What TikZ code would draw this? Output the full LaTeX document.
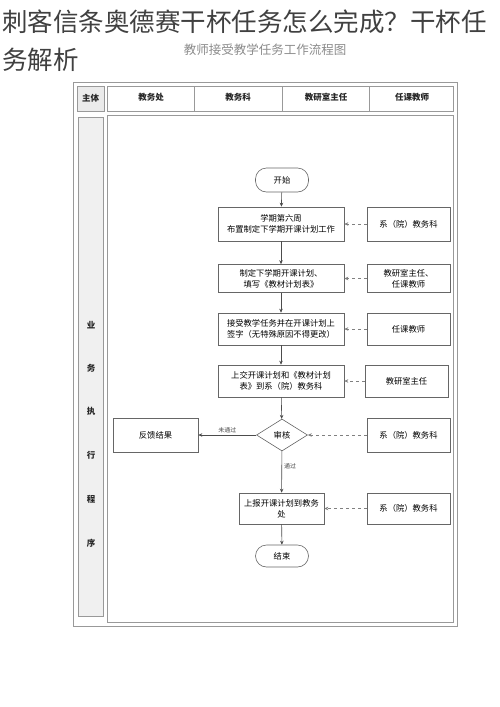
\documentclass[tikz,border=0pt]{standalone}
\usepackage{fontspec}
\newfontfamily\cjk{Noto Sans CJK SC}
\usetikzlibrary{arrows.meta,shapes.geometric,positioning}

\begin{document}
\begin{tikzpicture}[x=1pt,y=-1pt]
\tikzset{
  flowbox/.style={draw=black!60,line width=0.6pt,minimum width=126pt,minimum height=32pt,inner sep=1pt,align=center,font=\cjk\fontsize{8.3}{11}\selectfont},
  rolebox/.style={flowbox,minimum width=83pt},
  termnode/.style={draw=black!60,line width=0.6pt,rounded corners=11pt,minimum width=53pt,minimum height=24pt,inner sep=1pt,font=\cjk\fontsize{8.3}{11}\selectfont},
  checknode/.style={diamond,draw=black!60,line width=0.6pt,aspect=1.6,minimum width=51pt,minimum height=32pt,inner sep=0pt,font=\cjk\fontsize{8.3}{11}\selectfont},
  flowedge/.style={draw=black!70,line width=0.6pt,-{Stealth[length=4pt,width=3.5pt]}},
  hintedge/.style={flowedge,dashed,draw=black!50},
  edgelabel/.style={font=\cjk\fontsize{6}{8}\selectfont,text=black!70,inner sep=2pt},
  frameline/.style={draw=black!40,line width=0.6pt},
  headtext/.style={font=\cjk\bfseries\fontsize{8.5}{10}\selectfont,text=black!85,inner sep=0pt}
}
\useasboundingbox[fill=white] (0,0) rectangle (500,707);

\node[anchor=west,inner sep=0pt,font=\cjk\fontsize{25.5}{30}\selectfont,text=black!75] (t_title) at (2,22) {刺客信条奥德赛干杯任务怎么完成？干杯任};
\node[anchor=west,inner sep=0pt,font=\cjk\fontsize{25.5}{30}\selectfont,text=black!75] (t_title2) at (2,60) {务解析};
\node[inner sep=0pt,font=\cjk\fontsize{12.5}{14}\selectfont,text=black!45] (t_sub) at (265,50) {教师接受教学任务工作流程图};

\draw[frameline] (73,82) rectangle (457,626);
\draw[frameline,fill=black!8] (77,86) rectangle (104,111);
\draw[frameline] (107,86) rectangle (453,111);
\foreach \xs in {194,282,369}
  \draw[frameline] (\xs,86) -- (\xs,111);
\draw[frameline,fill=black!6] (78,117) rectangle (103,616);
\draw[frameline] (107,115) rectangle (453,622);

\node[headtext] (h_main) at (90.5,98.5) {主体};
\node[headtext] (h_office) at (151,97) {教务处};
\node[headtext] (h_section) at (238,97) {教务科};
\node[headtext] (h_head) at (326,97) {教研室主任};
\node[headtext] (h_teacher) at (412,97) {任课教师};

\foreach \ch/\yy [count=\i] in {业/325,务/368,执/411,行/455,程/499,序/543}
  \node[headtext] (s_\i) at (91,\yy) {\ch};

\node[termnode] (n_start) at (282,180) {开始};
\node[flowbox,minimum height=34pt] (n_plan) at (281,224) {学期第六周\\布置制定下学期开课计划工作};
\node[flowbox,minimum height=28pt] (n_fill) at (281,278.5) {制定下学期开课计划、\\填写《教材计划表》};
\node[flowbox] (n_sign) at (281,329) {接受教学任务并在开课计划上\\签字（无特殊原因不得更改）};
\node[flowbox] (n_submit) at (281,381) {上交开课计划和《教材计划\\表》到系（院）教务科};
\node[checknode] (n_check) at (282,435) {审核};
\node[flowbox,minimum width=85pt,minimum height=34pt] (n_feedback) at (155.5,435) {反馈结果};
\node[flowbox,minimum width=85pt,minimum height=31pt] (n_report) at (281.5,508.5) {上报开课计划到教务\\处};
\node[termnode,minimum height=22pt] (n_end) at (282,556) {结束};

\node[rolebox,minimum height=34pt] (r_plan) at (408.5,224) {系（院）教务科};
\node[rolebox,minimum height=28pt] (r_fill) at (408.5,278.5) {教研室主任、\\任课教师};
\node[rolebox] (r_sign) at (408.5,329) {任课教师};
\node[rolebox] (r_submit) at (406.5,381) {教研室主任};
\node[rolebox,minimum height=34pt] (r_check) at (408.5,435) {系（院）教务科};
\node[rolebox,minimum height=31pt] (r_report) at (408.5,508.5) {系（院）教务科};

\draw[flowedge] (n_start) -- (n_plan);
\draw[flowedge] (n_plan) -- (n_fill);
\draw[flowedge] (n_fill) -- (n_sign);
\draw[flowedge] (n_sign) -- (n_submit);
\draw[flowedge] (n_submit) -- (n_check);
\draw[flowedge] (n_check) -- node[edgelabel,above] {未通过} (n_feedback);
\draw[flowedge] (n_check) -- node[edgelabel,right,pos=0.35] {通过} (n_report);
\draw[flowedge] (n_report) -- (n_end);

\draw[hintedge] (r_plan) -- (n_plan);
\draw[hintedge] (r_fill) -- (n_fill);
\draw[hintedge] (r_sign) -- (n_sign);
\draw[hintedge] (r_submit) -- (n_submit);
\draw[hintedge] (r_check) -- (n_check);
\draw[hintedge] (r_report) -- (n_report);
\end{tikzpicture}
\end{document}
